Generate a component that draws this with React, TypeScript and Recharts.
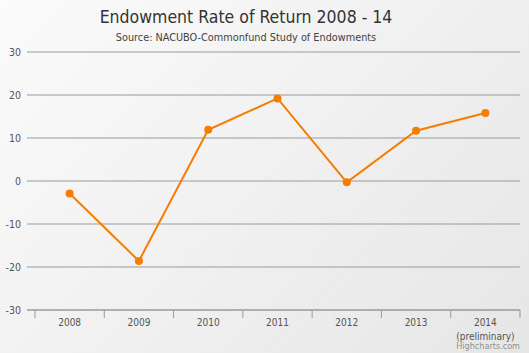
import { LineChart, Line, XAxis, YAxis, CartesianGrid } from 'recharts';

// ── Data ─────────────────────────────────────────────────────────────────────
const YEARS = ['2008', '2009', '2010', '2011', '2012', '2013', '2014'];
const RETURNS = [-2.9, -18.6, 11.9, 19.2, -0.3, 11.7, 15.8];
const Y_TICKS = [-30, -20, -10, 0, 10, 20, 30];
const LAST_NOTE = '(preliminary)';

const ORANGE = '#f57d00';
const GRID = '#9a9a9a';
const LABEL = '#555555';
const FONT = '"DejaVu Sans Condensed", "DejaVu Sans", sans-serif';

const W = 529;
const H = 353;
const BAND = 69.3;

const data = YEARS.map((year, i) => ({ year, ret: RETURNS[i] }));

function YearTick(props: any) {
  const { x, y, payload, index } = props;
  const last = index === YEARS.length - 1;
  return (
    <g>
      <line x1={x - BAND / 2} x2={x - BAND / 2} y1={y - 8} y2={y} stroke={GRID} />
      {last && <line x1={x + BAND / 2} x2={x + BAND / 2} y1={y - 8} y2={y} stroke={GRID} />}
      <text x={x} y={y + 8} textAnchor="middle" fontSize={10} fill={LABEL} fontFamily={FONT} fontStretch="condensed">
        {payload.value}
      </text>
      {last && (
        <text x={x} y={y + 22} textAnchor="middle" fontSize={10} fill={LABEL} fontFamily={FONT} fontStretch="condensed">
          {LAST_NOTE}
        </text>
      )}
    </g>
  );
}

export default function App() {
  return (
    <div
      style={{
        position: 'fixed',
        left: 0,
        top: 0,
        width: W,
        height: H,
        background: 'linear-gradient(135deg, #fbfbfb 0%, #e6e6e6 100%)',
        fontFamily: FONT,
        fontStretch: 'condensed',
      }}
    >
      <div
        style={{
          position: 'absolute',
          left: 0,
          width: 492,
          top: 6,
          textAlign: 'center',
          fontSize: 17.5,
          lineHeight: '22px',
          color: '#333',
        }}
      >
        Endowment Rate of Return 2008 - 14
      </div>
      <div
        style={{
          position: 'absolute',
          left: 0,
          width: 492,
          top: 31,
          textAlign: 'center',
          fontSize: 10.8,
          lineHeight: '13px',
          color: '#444',
        }}
      >
        Source: NACUBO-Commonfund Study of Endowments
      </div>
      <LineChart
        width={W}
        height={H}
        data={data}
        margin={{ top: 52, right: 9, bottom: 13, left: 0 }}
        style={{ position: 'absolute', left: 0, top: 0 }}
      >
        <CartesianGrid vertical={false} stroke={GRID} strokeWidth={1} />
        <XAxis
          dataKey="year"
          scale="band"
          padding={{ left: 8, right: 0 }}
          axisLine={{ stroke: GRID }}
          tickLine={false}
          tick={<YearTick />}
          interval={0}
          height={30}
        />
        <YAxis
          domain={[-30, 30]}
          ticks={Y_TICKS}
          axisLine={false}
          tickLine={false}
          width={27}
          tickMargin={0}
          tick={{ fontSize: 10.5, fill: LABEL, fontFamily: FONT, fontStretch: 'condensed' }}
        />
        <Line
          type="linear"
          dataKey="ret"
          stroke={ORANGE}
          strokeWidth={2}
          dot={{ r: 4, fill: ORANGE, stroke: ORANGE, strokeWidth: 0 }}
          isAnimationActive={false}
        />
      </LineChart>
      <div
        style={{
          position: 'absolute',
          right: 9,
          top: 341,
          fontSize: 9,
          lineHeight: '10px',
          color: '#909090',
        }}
      >
        Highcharts.com
      </div>
    </div>
  );
}
